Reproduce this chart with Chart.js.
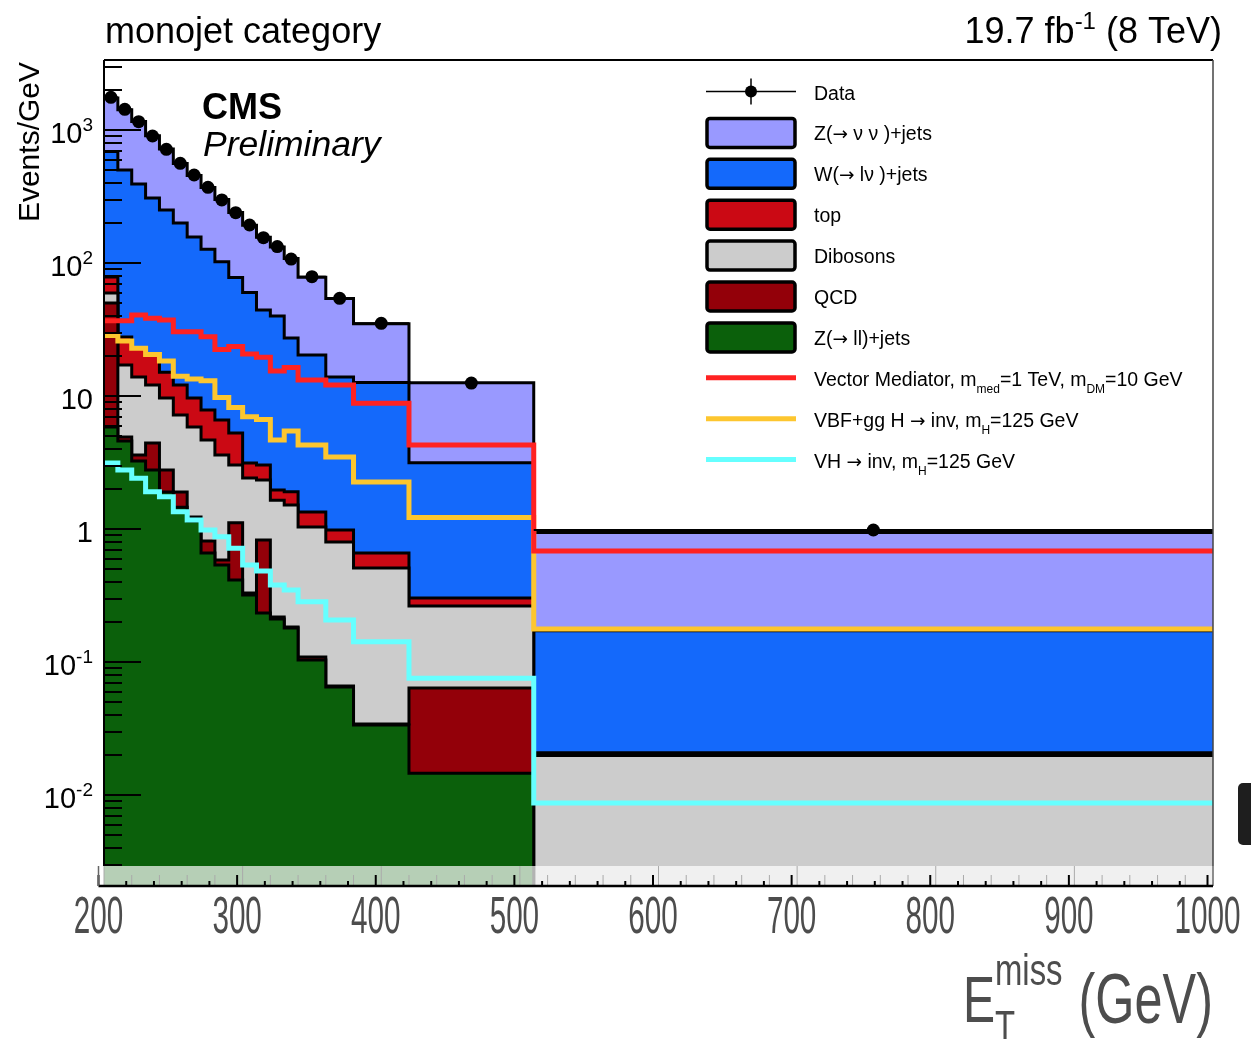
<!DOCTYPE html>
<html><head><meta charset="utf-8">
<script src="https://cdn.jsdelivr.net/npm/chart.js@4.4.1/dist/chart.umd.min.js"></script>
<style>html,body{margin:0;padding:0;background:#fff;}canvas{display:block;}</style>
</head><body>
<canvas id="c" width="1251" height="1039"></canvas>
<script>
// ---------------- data ----------------
const binEdges = [200,210,220,230,240,250,260,270,280,290,300,310,320,330,340,360,380,420,510,1000];
const dataObs  = [1762,1431,1155,901,716,562,459,371,298,239,193,155,133,107,78.9,54.3,35.2,12.5,0.983];
const zvvJets  = [1051,920,767,597,470,360,298,243,198,162,132,112,92,80.7,57.7,40.1,22.3,9.46,0.769];
const wJets    = [610,472,370,288,235,188,147,119,95.4,72.5,56.9,41.3,38.0,25.4,19.0,12.9,12.0,2.84,0.151];
const topQuark = [19.0,10.7,9.0,8.2,5.44,4.9,3.81,3.18,3.0,2.24,0.72,0.69,0.32,0.39,0.305,0.185,0.151,0.039,0.001];
const dibosons = [9.5,12.2,10.3,7.67,6.88,5.3,4.62,3.86,3.02,1.92,2.09,1.51,1.43,1.33,0.926,0.732,0.475,0.200,0.019];
const qcd      = [44.2,0.33,0.35,1.65,0.88,0.44,0.08,0.152,0.049,0.70,0.011,0.593,0.007,0.003,0.0055,0.001,0.0006,0.0492,0.0003];
const zllJets  = [5.85,4.59,3.25,2.78,1.90,1.46,1.15,0.66,0.536,0.414,0.319,0.234,0.211,0.180,0.1035,0.0649,0.0336,0.0146,0.0005];
const vectorMed = [36.8,36.8,40.6,38.4,37.3,30.4,30.4,27.9,22.4,23.6,20.7,19.6,15.4,16.4,13.2,12.1,8.81,4.28,0.683];
const vbfHinv   = [28.5,25.9,22.9,20.5,18.3,14.1,13.4,13.0,9.75,8.2,6.99,6.66,4.67,5.46,4.28,3.48,2.26,1.22,0.177];
const vhHinv    = [3.13,2.78,2.41,1.91,1.75,1.35,1.17,0.983,0.875,0.716,0.536,0.483,0.379,0.348,0.284,0.207,0.142,0.0754,0.00871];

const xTickValues = [200,300,400,500,600,700,800,900,1000];
const xTickLabels = ['200','300','400','500','600','700','800','900','1000'];
const yTickValues = [0.01,0.1,1,10,100,1000];
const yTickBase   = ['10','10','1','10','10','10'];
const yTickExp    = ['-2','-1','','','2','3'];

const stackLabels = ['Z(→ ll)+jets','QCD','Dibosons','top','W(→ lν )+jets','Z(→ ν ν )+jets'];
const stackColors = ['#0b600b','#930009','#cccccc','#cb0914','#1469fb','#9999ff'];
const stackSeries = [zllJets, qcd, dibosons, topQuark, wJets, zvvJets]; // bottom -> top
const signalLabels = ['Vector Mediator, m_{med}=1 TeV, m_{DM}=10 GeV','VBF+gg H → inv, m_{H}=125 GeV','VH → inv, m_{H}=125 GeV'];
const signalColors = ['#ff2222','#fdc62f','#66ffff'];
const signalSeries = [vectorMed, vbfHinv, vhHinv];
const legendOrder = ['Data','Z(→ ν ν )+jets','W(→ lν )+jets','top','Dibosons','QCD','Z(→ ll)+jets'].concat(signalLabels);

const FONT = '"Liberation Sans", Arial, Helvetica, sans-serif';
const ARROW_FONT = '"DejaVu Sans", sans-serif';

function stepPoints(vals){
  const pts = vals.map((v,i)=>({x:binEdges[i], y:v}));
  pts.push({x:binEdges[binEdges.length-1], y:vals[vals.length-1]});
  return pts;
}
const cum = [];
{ let acc = binEdges.slice(0,-1).map(()=>0);
  for (const s of stackSeries){ acc = acc.map((a,i)=>a+s[i]); cum.push(acc.slice()); } }

const datasets = [];
stackSeries.forEach((s,k)=>{
  datasets.push({type:'line', label:stackLabels[k], data:stepPoints(cum[k]), stepped:true, fill:'start',
    backgroundColor:stackColors[k], borderColor:'#000', borderWidth:3, pointRadius:0,
    borderJoinStyle:'miter', order:5+k});
});
signalSeries.forEach((s,k)=>{
  datasets.push({type:'line', label:signalLabels[k], data:stepPoints(s), stepped:true, fill:false,
    borderColor:signalColors[k], borderWidth:5, pointRadius:0, borderJoinStyle:'miter', order:2+k});
});
datasets.push({type:'line', label:'Data', showLine:false,
  data:dataObs.map((v,i)=>({x:(binEdges[i]+binEdges[i+1])/2, y:v})),
  pointRadius:6.5, pointBackgroundColor:'#000', pointBorderColor:'#000', pointBorderWidth:0, order:1});

function richWidth(ctx, parts){
  let w=0; for (const p of parts){ ctx.font = p.font; w += ctx.measureText(p.t).width; } return w;
}
function drawRich(ctx, parts, x, y){
  for (const p of parts){ ctx.font = p.font; ctx.fillText(p.t, x, y + (p.dy||0)); x += ctx.measureText(p.t).width; }
}
function pushText(parts, s, size){
  // long arrow drawn with a wider font
  const segs = s.split('→');
  segs.forEach((seg,i)=>{
    if (i>0) parts.push({t:'→', font:(size-1)+'px '+ARROW_FONT});
    if (seg) parts.push({t:seg, font:size+'px '+FONT});
  });
}
function parseSub(str, size, subSize, dy){
  const parts=[]; const re=/_\{([^}]*)\}/g; let last=0, m;
  while((m=re.exec(str))){ if (m.index>last) pushText(parts, str.slice(last,m.index), size);
    parts.push({t:m[1], font:subSize+'px '+FONT, dy:dy}); last=re.lastIndex; }
  if (last<str.length) pushText(parts, str.slice(last), size);
  return parts;
}

const decor = {
  id:'decor',
  afterDatasetsDraw(chart){
    const {ctx, chartArea:a, scales:{x, y}} = chart;
    const stripTop = a.bottom - 20;
    ctx.save();
    // data horizontal error bars
    ctx.strokeStyle = '#000'; ctx.lineWidth = 2;
    dataObs.forEach((v,i)=>{
      const yy = y.getPixelForValue(v);
      ctx.beginPath(); ctx.moveTo(x.getPixelForValue(binEdges[i]), yy);
      ctx.lineTo(x.getPixelForValue(binEdges[i+1]), yy); ctx.stroke();
    });
    // faded strip below the frame
    ctx.fillStyle = 'rgba(255,255,255,0.7)';
    ctx.fillRect(a.left, stripTop, a.right - a.left, a.bottom - stripTop);
    // frame
    ctx.strokeStyle = '#000'; ctx.lineWidth = 2;
    ctx.beginPath(); ctx.moveTo(a.left, a.top); ctx.lineTo(a.right, a.top); ctx.stroke();
    ctx.beginPath(); ctx.moveTo(a.left, a.top); ctx.lineTo(a.left, stripTop); ctx.stroke();
    ctx.strokeStyle = '#444'; ctx.lineWidth = 1.5;
    ctx.beginPath(); ctx.moveTo(a.right, a.top); ctx.lineTo(a.right, a.bottom); ctx.stroke();
    // y ticks
    ctx.strokeStyle = '#000'; ctx.lineWidth = 2;
    for (let d=-3; d<=3; d++) for (let m=1; m<=9; m++){
      const v = m*Math.pow(10,d);
      if (v < y.min || v > y.max) continue;
      const py = Math.round(y.getPixelForValue(v));
      if (py > stripTop - 1) continue;
      ctx.beginPath(); ctx.moveTo(a.left, py); ctx.lineTo(a.left + (m===1?37:18), py); ctx.stroke();
    }
    // x axis ticks in strip
    for (let v=200; v<=1000; v+=20){
      const px = x.getPixelForValue(v); const major = v%100===0;
      ctx.strokeStyle = '#aaa'; ctx.lineWidth = 1;
      ctx.beginPath(); ctx.moveTo(px, major? stripTop : a.bottom-11); ctx.lineTo(px, a.bottom); ctx.stroke();
      ctx.strokeStyle = '#000'; ctx.lineWidth = 2;
      ctx.beginPath(); ctx.moveTo(px-5.5, a.bottom-(major?11:5)); ctx.lineTo(px-5.5, a.bottom); ctx.stroke();
    }
    ctx.strokeStyle = '#000'; ctx.lineWidth = 2.5;
    ctx.beginPath(); ctx.moveTo(a.left-5.5, a.bottom); ctx.lineTo(a.right, a.bottom); ctx.stroke();
    ctx.strokeStyle = '#666'; ctx.lineWidth = 1.5;
    ctx.beginPath(); ctx.moveTo(a.left-5.5, stripTop); ctx.lineTo(a.left-5.5, a.bottom); ctx.stroke();

    // x tick labels (condensed)
    ctx.fillStyle = '#4d4d4d'; ctx.textBaseline = 'alphabetic'; ctx.textAlign = 'center';
    xTickValues.forEach((v,i)=>{
      ctx.font = '52px ' + FONT;
      const w = ctx.measureText(xTickLabels[i]).width*0.57;
      let cx = x.getPixelForValue(v) - 5.5;
      cx = Math.min(cx, chart.width - 4 - w/2);
      ctx.save(); ctx.translate(cx, 933); ctx.scale(0.57,1); ctx.fillText(xTickLabels[i],0,0); ctx.restore();
    });
    // x title
    ctx.textAlign = 'left';
    const drawCond = (t, size, px, py, sc) => { ctx.save(); ctx.translate(px,py); ctx.scale(sc,1); ctx.font = size+'px '+FONT; ctx.fillText(t,0,0); ctx.restore(); };
    drawCond('E', 65, 963, 1022, 0.74);
    drawCond('miss', 45, 995, 985, 0.73);
    drawCond('T', 45, 995, 1042, 0.73);
    ctx.font = '70px ' + FONT;
    const wg = ctx.measureText('(GeV)').width*0.72;
    drawCond('(GeV)', 70, 1213 - wg, 1023, 0.72);

    // y tick labels
    ctx.fillStyle = '#000';
    yTickValues.forEach((v,i)=>{
      const py = y.getPixelForValue(v);
      const parts = [{t:yTickBase[i], font:'29px '+FONT, dy:12.5}];
      if (yTickExp[i]) parts.push({t:yTickExp[i], font:'19px '+FONT, dy:1});
      const w = richWidth(ctx, parts);
      drawRich(ctx, parts, 93 - w, py);
    });
    // y title
    ctx.save(); ctx.translate(38.5, 62); ctx.rotate(-Math.PI/2); ctx.textAlign='right';
    ctx.font = '30px ' + FONT; ctx.fillText('Events/GeV', 0, 0); ctx.restore();

    // titles
    ctx.textAlign='left';
    ctx.font = '36px ' + FONT; ctx.fillText('monojet category', 105, 43);
    const lumi = [{t:'19.7 fb', font:'36px '+FONT},{t:'-1', font:'24px '+FONT, dy:-14},{t:' (8 TeV)', font:'36px '+FONT}];
    drawRich(ctx, lumi, 1222 - richWidth(ctx, lumi), 43);
    ctx.font = 'bold 36px ' + FONT; ctx.fillText('CMS', 202, 119);
    ctx.font = 'italic 35.5px ' + FONT; ctx.fillText('Preliminary', 203, 156);

    // legend
    const lx0 = 706, lx1 = 796, tx = 814, row0 = 91.5, rowStep = 40.9;
    legendOrder.forEach((lab,i)=>{
      const cy = row0 + i*rowStep;
      if (lab === 'Data'){
        ctx.strokeStyle='#000'; ctx.lineWidth=1.5;
        ctx.beginPath(); ctx.moveTo(lx0, cy); ctx.lineTo(lx1, cy); ctx.stroke();
        ctx.beginPath(); ctx.moveTo((lx0+lx1)/2, cy-13); ctx.lineTo((lx0+lx1)/2, cy+13); ctx.stroke();
        ctx.fillStyle='#000'; ctx.beginPath(); ctx.arc((lx0+lx1)/2, cy, 6, 0, 2*Math.PI); ctx.fill();
      } else {
        const si = stackLabels.indexOf(lab);
        if (si >= 0){
          ctx.fillStyle = stackColors[si]; ctx.strokeStyle='#000'; ctx.lineWidth=3.5;
          ctx.beginPath(); ctx.roundRect(lx0+1, cy-14, lx1-lx0-2, 29, 3); ctx.fill(); ctx.stroke();
        } else {
          const k = signalLabels.indexOf(lab);
          ctx.strokeStyle = signalColors[k]; ctx.lineWidth = 5;
          ctx.beginPath(); ctx.moveTo(lx0, cy); ctx.lineTo(lx1, cy); ctx.stroke();
        }
      }
      ctx.fillStyle = '#000'; ctx.textBaseline = 'alphabetic';
      drawRich(ctx, parseSub(lab, 19.5, 12, 7), tx, cy + 8);
    });
    // dark shape at right image edge
    ctx.fillStyle = '#1e1e1e';
    ctx.beginPath(); ctx.roundRect(1238, 783, 20, 62, 5); ctx.fill();
    ctx.restore();
  }
};

new Chart(document.getElementById('c'), {
  data:{datasets},
  options:{
    responsive:false, animation:false, devicePixelRatio:1,
    layout:{padding:{left:104, right:38, top:60, bottom:153}},
    plugins:{legend:{display:false}, tooltip:{enabled:false}, title:{display:false}},
    scales:{
      x:{type:'linear', min:200, max:1000, display:false},
      y:{type:'logarithmic', min:0.00207, max:3360, display:false}
    }
  },
  plugins:[decor]
});
</script>
</body></html>
